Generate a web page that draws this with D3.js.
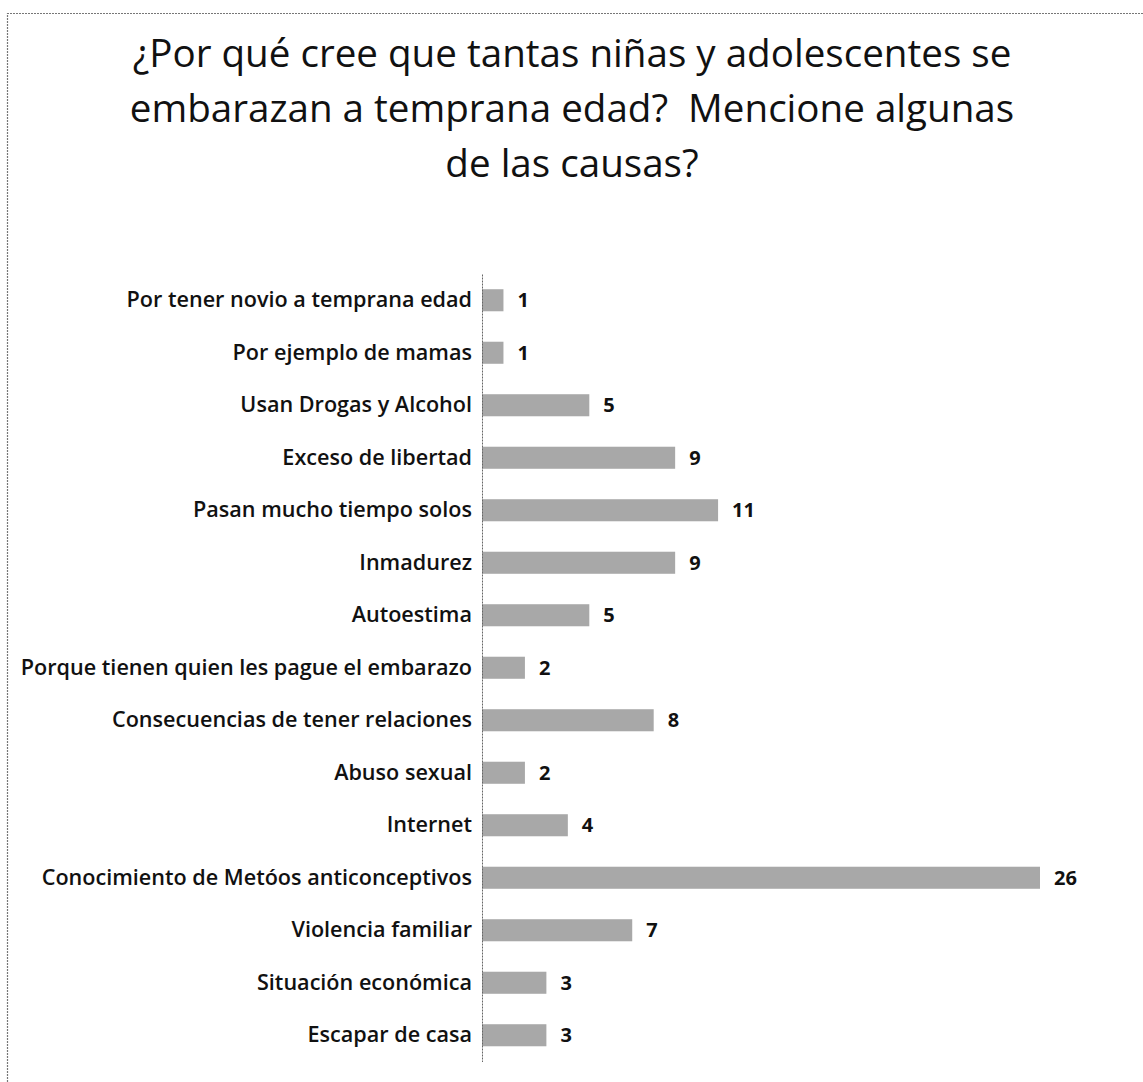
<!DOCTYPE html>
<html>
<head>
<meta charset="utf-8">
<title>Causas de embarazo temprano</title>
<script src="https://cdn.jsdelivr.net/npm/d3@7"></script>
<style>
    body { margin: 0; background: #fff; }
    .title { font-family: "Open Sans", sans-serif; font-size: 38.6px; fill: #111; }
    .cat { font-family: "Open Sans", sans-serif; font-weight: 600; font-size: 21.6px; fill: #111; }
    .val { font-family: "Open Sans", sans-serif; font-weight: 700; font-size: 20px; fill: #111; }
</style>
</head>
<body>
<script>
var categories = [
    "Por tener novio a temprana edad",
    "Por ejemplo de mamas",
    "Usan Drogas y Alcohol",
    "Exceso de libertad",
    "Pasan mucho tiempo solos",
    "Inmadurez",
    "Autoestima",
    "Porque tienen quien les pague el embarazo",
    "Consecuencias de tener relaciones",
    "Abuso sexual",
    "Internet",
    "Conocimiento de Metóos anticonceptivos",
    "Violencia familiar",
    "Situación económica",
    "Escapar de casa"
];
var values = [1, 1, 5, 9, 11, 9, 5, 2, 8, 2, 4, 26, 7, 3, 3];
var titleLines = [
    "¿Por qué cree que tantas niñas y adolescentes se",
    "embarazan a temprana edad?  Mencione algunas",
    "de las causas?"
];

var width = 1143, height = 1082;
var margin = {top: 274, left: 482, right: 0, bottom: 20};
var plotH = 787.5;

var svg = d3.select("body").append("svg")
        .attr("width", width)
        .attr("height", height);

// frame (only top and left edges show in the picture)
svg.append("path")
        .attr("d", "M7.5," + height + "V13.5H" + width)
        .attr("fill", "none")
        .attr("stroke", "#777")
        .attr("stroke-width", 1.2)
        .attr("stroke-dasharray", "2,1");

svg.selectAll("text.title")
        .data(titleLines)
        .enter()
        .append("text")
        .attr("class", "title")
        .attr("x", 572)
        .attr("y", function (d, i) { return 67 + i * 55; })
        .attr("text-anchor", "middle")
        .style("white-space", "pre")
        .text(function (d) { return d; });

var x = d3.scaleLinear()
        .domain([0, 26])
        .range([0, 558]);

var y = d3.scaleBand()
        .domain(categories)
        .range([0, plotH])
        .paddingInner(0.58)
        .paddingOuter(0.29);

var g = svg.append("g")
        .attr("transform", "translate(" + margin.left + "," + margin.top + ")");

g.selectAll("rect.bar")
        .data(values)
        .enter()
        .append("rect")
        .attr("class", "bar")
        .attr("x", 0)
        .attr("y", function (d, i) { return y(categories[i]); })
        .attr("width", function (d) { return x(d); })
        .attr("height", y.bandwidth())
        .attr("fill", "#a8a8a8");

g.selectAll("text.val")
        .data(values)
        .enter()
        .append("text")
        .attr("class", "val")
        .attr("x", function (d) { return x(d) + 14; })
        .attr("y", function (d, i) { return y(categories[i]) + y.bandwidth() / 2; })
        .attr("dy", "0.35em")
        .text(function (d) { return d; });

var yAxis = d3.axisLeft(y)
        .tickSize(0)
        .tickPadding(10);

var axisG = g.append("g")
        .call(yAxis);

axisG.select(".domain")
        .attr("stroke", "#666")
        .attr("stroke-dasharray", "2,1");

axisG.selectAll(".tick text")
        .attr("class", "cat")
        .attr("fill", null)
        .attr("font-family", null)
        .attr("font-size", null);
</script>
</body>
</html>
